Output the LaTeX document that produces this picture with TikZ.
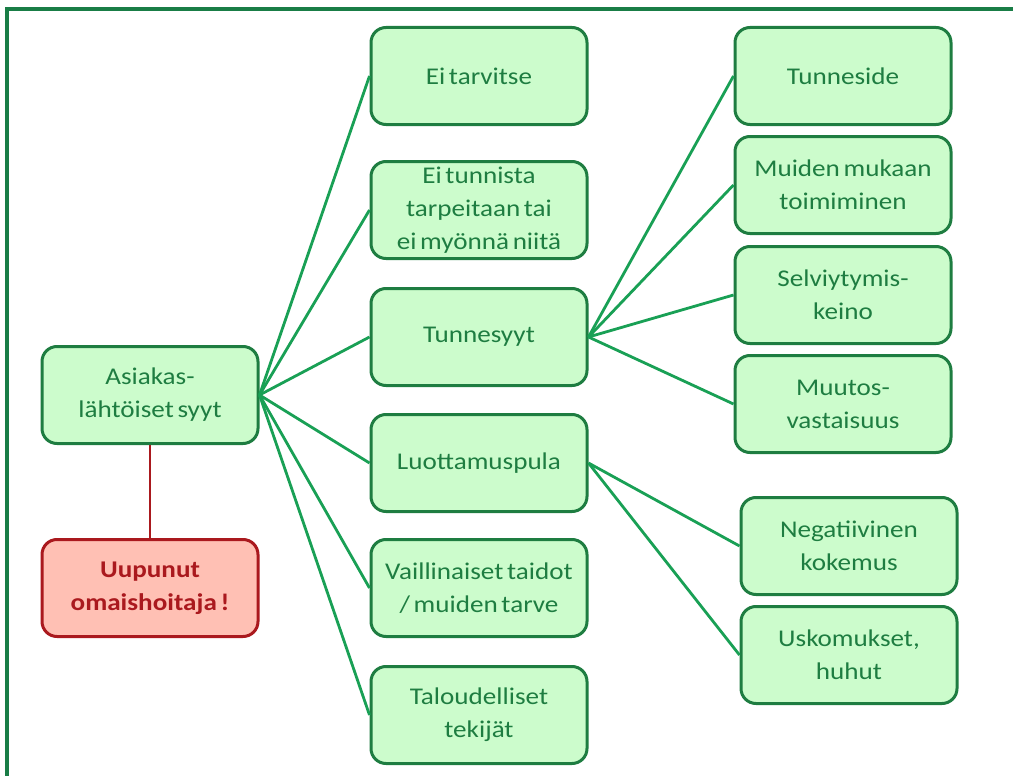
\documentclass[tikz,border=0pt]{standalone}
\usepackage{fontspec}
\setmainfont{Carlito}[FakeStretch=1.13,WordSpace=0.6]
\definecolor{boxfill}{RGB}{204,252,204}
\definecolor{boxdraw}{RGB}{30,125,65}
\definecolor{boxtext}{RGB}{30,125,65}
\definecolor{linkgreen}{RGB}{25,160,85}
\definecolor{framegreen}{RGB}{25,125,70}
\definecolor{redfill}{RGB}{255,192,180}
\definecolor{reddraw}{RGB}{170,25,30}
\begin{document}
\begin{tikzpicture}[x=1pt,y=-1pt,
  box/.style={draw=boxdraw, fill=boxfill, line width=3pt, rounded corners=15pt,
    minimum width=216pt, minimum height=97pt, align=center, text=boxtext,
    font=\fontsize{24}{33}\selectfont, inner sep=0pt},
  redbox/.style={box, draw=reddraw, fill=redfill, text=reddraw, font=\fontsize{24}{33}\selectfont\bfseries},
  link/.style={draw=linkgreen, line width=2.8pt},
  redlink/.style={draw=reddraw, line width=2.8pt}]
\useasboundingbox (0,0) rectangle (1013,776);
\draw[framegreen, line width=3.2pt] (7,776) -- (7,9) -- (1013,9);

\node[box] (root) at (150,395) {Asiakas-\\lähtöiset syyt};
\node[redbox] (red) at (150,588) {Uupunut\\omaishoitaja !};

\node[box] (m1) at (479,76) {Ei tarvitse};
\node[box] (m2) at (479,210) {\raisebox{-3pt}{\parbox{210pt}{\centering Ei tunnista\\tarpeitaan tai\\ei myönnä niitä}}};
\node[box] (m3) at (479,337) {Tunnesyyt};
\node[box] (m4) at (479,463) {Luottamuspula};
\node[box] (m5) at (479,588) {Vaillinaiset taidot\\/ muiden tarve};
\node[box] (m6) at (479,715) {Taloudelliset\\tekijät};

\node[box] (r1) at (843,76) {Tunneside};
\node[box] (r2) at (843,185) {Muiden mukaan\\toimiminen};
\node[box] (r3) at (843,295) {Selviytymis-\\keino};
\node[box] (r4) at (843,404) {Muutos-\\vastaisuus};
\node[box] (r5) at (849,546) {Negatiivinen\\kokemus};
\node[box] (r6) at (849,655) {Uskomukset,\\huhut};

\draw[redlink] (root.south) -- (red.north);
\foreach \m in {m1,m2,m3,m4,m5,m6} \draw[link] (root.east) -- (\m.west);
\foreach \r in {r1,r2,r3,r4} \draw[link] (m3.east) -- (\r.west);
\foreach \r in {r5,r6} \draw[link] (m4.east) -- (\r.west);
\end{tikzpicture}
\end{document}
